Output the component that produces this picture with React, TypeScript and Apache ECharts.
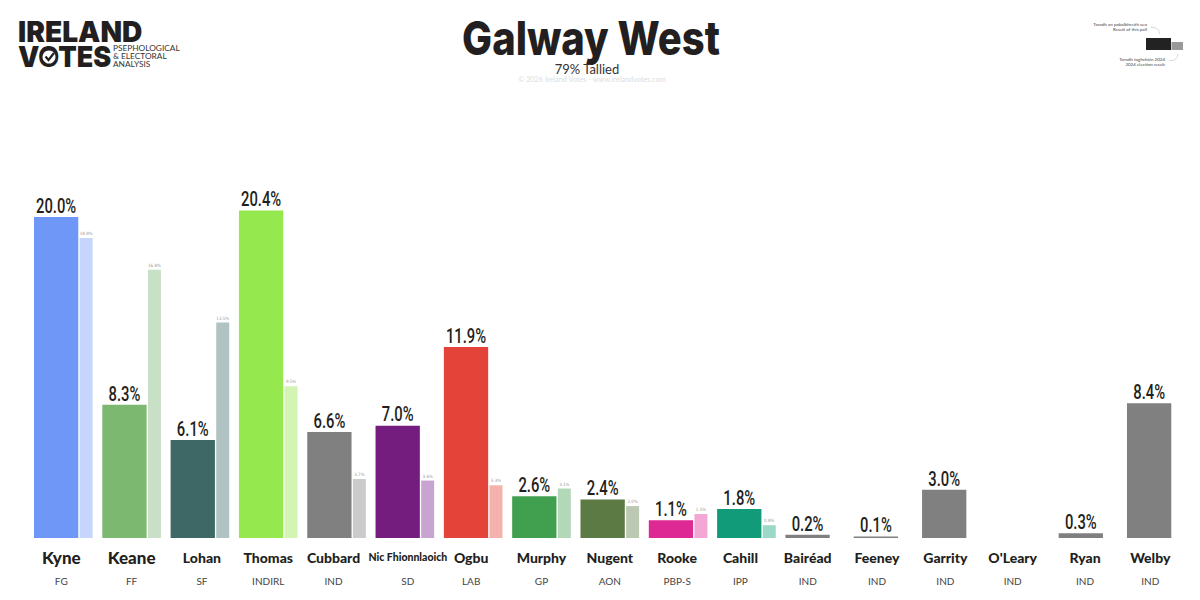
import React, { useEffect, useRef } from "react";
import * as echarts from "echarts";

const names = ["Kyne", "Keane", "Lohan", "Thomas", "Cubbard", "Nic Fhionnlaoich", "Ogbu", "Murphy", "Nugent", "Rooke", "Cahill", "Bairéad", "Feeney", "Garrity", "O'Leary", "Ryan", "Welby"];
const parties = ["FG", "FF", "SF", "INDIRL", "IND", "SD", "LAB", "GP", "AON", "PBP-S", "IPP", "IND", "IND", "IND", "IND", "IND", "IND"];
const current = [20.0, 8.3, 6.1, 20.4, 6.6, 7.0, 11.9, 2.6, 2.4, 1.1, 1.8, 0.2, 0.1, 3.0, null, 0.3, 8.4];
const previous = [18.8, 16.8, 13.5, 9.5, 3.7, 3.6, 3.3, 3.1, 2.0, 1.5, 0.8, null, null, null, null, null, null];
const mainColors = ["#6f97f7", "#7cb86f", "#3e6865", "#96e84f", "#808080", "#751d7e", "#e4433a", "#41a04f", "#5b7a44", "#de2995", "#119b78", "#808080", "#808080", "#808080", "#808080", "#808080", "#808080"];
const prevColors = ["#c6d5fb", "#c8e0c5", "#b0c2c1", "#d2f5b3", "#cbcbcb", "#c7a5d0", "#f5b1ac", "#b2d8b7", "#bbc8b2", "#f2a7d4", "#9cd8c8", "#cccccc", "#cccccc", "#cccccc", "#cccccc", "#cccccc", "#cccccc"];
const nudges = [2, 0, -2, 0, 3, -3, 2, 0, 0, 1, 6, 7, 6, 6, 7, 3, 6];

const DARK = "#231f20";

const richStyles: Record<string, any> = {};
nudges.forEach((d, i) => {
  const size = i < 2 ? 17 : names[i].length > 10 ? 10.5 : 14;
  const pad = [0, d > 0 ? 2 * d : 0, 0, d < 0 ? -2 * d : 0];
  richStyles[`n${i}`] = { fontFamily: "Lato", fontWeight: 900, fontSize: size, color: DARK, lineHeight: 24, padding: pad };
  richStyles[`p${i}`] = { fontFamily: "Lato", fontWeight: 400, fontSize: 10, color: "#444444", lineHeight: 24, padding: pad };
});

const scaledText = (x: number, y: number, text: string, scaleX: number, fontSize: number, fontWeight: number, textAlign = "left") => ({
  type: "text", x, y, scaleX,
  style: { x: 0, y: 0, text, textAlign, fontFamily: "Inter", fontWeight, fontSize, fill: DARK },
});

export default function App() {
  const ref = useRef<HTMLDivElement>(null);
  useEffect(() => {
    document.body.style.margin = "0";
    document.body.style.background = "#fff";
    const chart = echarts.init(ref.current!, null, { renderer: "svg" });
    chart.setOption({
      animation: false,
      backgroundColor: "#ffffff",
      grid: { left: 29.15, right: 9.55, top: 136.75, height: 401.25 },
      xAxis: {
        type: "category",
        data: names.map((n, i) => `${i}|${n}|${parties[i]}`),
        axisLine: { show: false },
        axisTick: { show: false },
        axisLabel: {
          interval: 0,
          margin: 7,
          formatter: (v: string) => {
            const [i, n, p] = v.split("|");
            return `{n${i}|${n}}\n{p${i}|${p}}`;
          },
          rich: richStyles,
        },
      },
      yAxis: [
        { type: "value", min: 0, max: 25, show: false },
        { type: "value", min: 0, max: 25.14, show: false },
      ],
      series: [
        {
          type: "bar",
          data: current.map((v, i) => ({ value: v, itemStyle: { color: mainColors[i] } })),
          barWidth: 44.3,
          barGap: "3%",
        },
        {
          type: "bar",
          yAxisIndex: 1,
          data: previous.map((v, i) => ({ value: v, itemStyle: { color: prevColors[i] } })),
          barWidth: 13,
          label: {
            show: true,
            position: "top",
            distance: 2,
            formatter: (p: any) => `${p.value.toFixed(1)}%`,
            fontFamily: "'DejaVu Sans Condensed', sans-serif",
            fontSize: 4.5,
            color: "#999999",
          },
        },
        {
          type: "custom",
          data: current.map((v, i) => [i, v]).filter((d) => d[1] !== null),
          encode: { x: 0, y: 1 },
          silent: true,
          z: 5,
          renderItem: (_p: any, api: any) => {
            const pt = api.coord([api.value(0), api.value(1)]);
            return {
              type: "text",
              x: pt[0] - 7.15,
              y: pt[1] - 1,
              scaleX: 0.74,
              style: {
                x: 0,
                y: 0,
                text: `${Number(api.value(1)).toFixed(1)}%`,
                textAlign: "center",
                textVerticalAlign: "bottom",
                fontFamily: "Roboto",
                fontWeight: 500,
                fontSize: 20,
                fill: DARK,
              },
            };
          },
        },
      ],
      graphic: [
        scaledText(591, 15, "Galway West", 0.85, 47, 800, "center"),
        { type: "text", style: { x: 587, y: 62, text: "79% Tallied", textAlign: "center", fontFamily: "Lato", fontSize: 13, fill: "#333333" } },
        { type: "text", style: { x: 592, y: 76, text: "© 2026 Ireland Votes - www.irelandvotes.com", textAlign: "center", fontFamily: "Lato", fontSize: 7.3, fill: "#dddddd" } },
        scaledText(18, 17, "IRELAND", 0.97, 29, 900),
        scaledText(18, 42, "VOTES", 0.93, 29, 900),
        { type: "circle", shape: { cx: 49, cy: 57, r: 6.5 }, style: { fill: "#ffffff" } },
        { type: "polyline", shape: { points: [[45.5, 56.5], [48.5, 60], [54, 53]] }, style: { stroke: DARK, lineWidth: 2.2, fill: "none" } },
        { type: "text", style: { x: 113, y: 44, text: "PSEPHOLOGICAL", fontFamily: "Lato", fontSize: 8.3, fill: "#333333" } },
        { type: "text", style: { x: 113, y: 52, text: "& ELECTORAL", fontFamily: "Lato", fontSize: 8.3, fill: "#333333" } },
        { type: "text", style: { x: 113, y: 60, text: "ANALYSIS", fontFamily: "Lato", fontSize: 8.3, fill: "#333333" } },
        { type: "rect", shape: { x: 1146, y: 38, width: 25, height: 12 }, style: { fill: "#222222" } },
        { type: "rect", shape: { x: 1171.5, y: 42, width: 11.5, height: 8 }, style: { fill: "#999999" } },
        { type: "text", style: { x: 1147, y: 22, text: "Toradh an pobalbhreith seo", textAlign: "right", fontFamily: "Lato", fontSize: 4.5, fill: "#444444" } },
        { type: "text", style: { x: 1147, y: 27, text: "Result of this poll", textAlign: "right", fontFamily: "Lato", fontSize: 4.5, fill: "#444444" } },
        { type: "text", style: { x: 1165, y: 57, text: "Toradh toghcháin 2024", textAlign: "right", fontFamily: "Lato", fontSize: 4.5, fill: "#444444" } },
        { type: "text", style: { x: 1165, y: 62, text: "2024 election result", textAlign: "right", fontFamily: "Lato", fontSize: 4.5, fill: "#444444" } },
        { type: "bezierCurve", shape: { x1: 1151, y1: 27.5, x2: 1159.5, y2: 34, cpx1: 1157, cpy1: 27, cpx2: 1159.5, cpy2: 30 }, style: { stroke: "#bbbbbb", lineWidth: 0.6, fill: "none" } },
        { type: "bezierCurve", shape: { x1: 1169, y1: 60.5, x2: 1178, y2: 53.5, cpx1: 1175, cpy1: 61, cpx2: 1178, cpy2: 58 }, style: { stroke: "#bbbbbb", lineWidth: 0.6, fill: "none" } },
      ],
    });
    return () => chart.dispose();
  }, []);
  return <div ref={ref} style={{ width: 1200, height: 600 }} />;
}
